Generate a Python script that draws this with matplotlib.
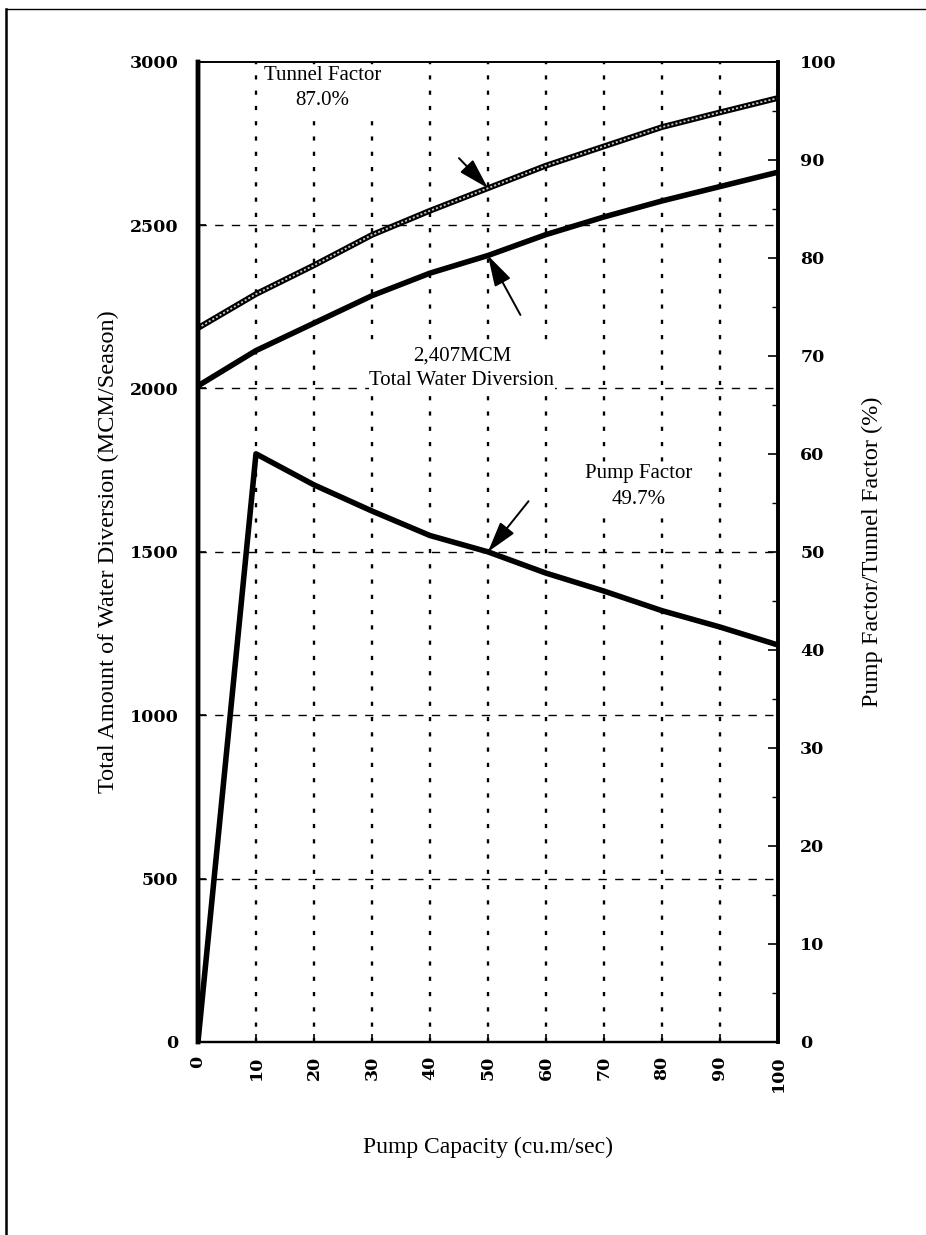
import matplotlib

matplotlib.use("Agg")
import matplotlib.pyplot as plt
from matplotlib.lines import Line2D
from matplotlib.ticker import MultipleLocator

pump_capacity = [0, 10, 20, 30, 40, 50, 60, 70, 80, 90, 100]
tunnel_factor = [2185, 2289, 2377, 2470, 2544, 2613, 2682, 2741, 2800, 2845, 2889]
total_diversion = [2008, 2116, 2200, 2284, 2353, 2407, 2471, 2525, 2574, 2618, 2662]
pump_factor = [0, 1800, 1705, 1625, 1550, 1500, 1435, 1380, 1320, 1270, 1215]

left_ticks = [0, 500, 1000, 1500, 2000, 2500, 3000]
right_ticks = [0, 10, 20, 30, 40, 50, 60, 70, 80, 90, 100]
x_ticks = [0, 10, 20, 30, 40, 50, 60, 70, 80, 90, 100]

plt.rcParams["font.family"] = ["Liberation Serif", "DejaVu Serif"]
plt.rcParams["lines.scale_dashes"] = False

TICK_FONT = dict(family="DejaVu Serif", fontsize=12.5, fontweight="bold")

fig = plt.figure(figsize=(9.26, 12.35), dpi=100)
ax = fig.add_axes([0.2138, 0.1563, 0.6263, 0.7937])

ax.set_xlim(0, 100)
ax.set_ylim(0, 3000)

for x in x_ticks[1:-1]:
    ax.axvline(x, color="black", lw=1.7, ls=(0, (3, 8)), zorder=1)
for y in left_ticks[1:-1]:
    ax.axhline(y, color="black", lw=1.0, ls=(0, (6, 6)), zorder=1)

ax.plot(pump_capacity, tunnel_factor, color="black", lw=4.2, solid_capstyle="butt", zorder=3)
ax.plot(pump_capacity, tunnel_factor, color="#c8c8c8", lw=1.3, ls=(0, (1.5, 1.5)), zorder=4)
ax.plot(pump_capacity, total_diversion, color="black", lw=4.0, zorder=3)
ax.plot(pump_capacity, pump_factor, color="black", lw=4.0, zorder=3)

arrow = dict(arrowstyle="-|>,head_length=1.9,head_width=0.55", color="black", lw=1.4,
             shrinkA=0, shrinkB=0)
ax.annotate("", xy=(50, 2613), xytext=(45.0, 2705), arrowprops=arrow, zorder=5)
ax.annotate("", xy=(50, 2407), xytext=(55.6, 2225), arrowprops=arrow, zorder=5)
ax.annotate("", xy=(50, 1500), xytext=(57.0, 1655), arrowprops=arrow, zorder=5)

box = dict(facecolor="white", edgecolor="none", pad=0.5)
ax.text(21.5, 2920, "Tunnel Factor\n87.0%", ha="center", va="center", fontsize=15,
        linespacing=1.45, bbox=box, zorder=6)
ax.text(45.5, 2062, "2,407MCM\nTotal Water Diversion", ha="center", va="center",
        fontsize=15, linespacing=1.45, bbox=box, zorder=6)
ax.text(76, 1700, "Pump Factor\n49.7%", ha="center", va="center", fontsize=15,
        linespacing=1.45, bbox=box, zorder=6)

ax.set_xticks(x_ticks)
ax.set_xticklabels([str(v) for v in x_ticks], rotation=90, **TICK_FONT)
ax.set_yticks(left_ticks)
ax.set_yticklabels([str(v) for v in left_ticks], **TICK_FONT)
ax.tick_params(axis="both", direction="in", length=6, width=1.2, pad=14)
ax.tick_params(axis="x", pad=10)

ax2 = ax.twinx()
ax2.set_ylim(0, 100)
ax2.set_yticks(right_ticks)
ax2.set_yticklabels([str(v) for v in right_ticks], **TICK_FONT)
ax2.yaxis.set_minor_locator(MultipleLocator(5))
ax2.tick_params(axis="y", which="major", direction="in", length=7, width=1.2, pad=16)
ax2.tick_params(axis="y", which="minor", direction="in", length=4, width=1.0)

for side, width in [("left", 3.2), ("bottom", 1.6), ("top", 1.2), ("right", 2.6)]:
    ax.spines[side].set_linewidth(width)
    ax2.spines[side].set_linewidth(width)

ax.set_xlabel("Pump Capacity (cu.m/sec)", fontsize=17, labelpad=32)
ax.set_ylabel("Total Amount of Water Diversion (MCM/Season)", fontsize=17.5, labelpad=8)
ax2.set_ylabel("Pump Factor/Tunnel Factor (%)", fontsize=17.5, labelpad=18)

fig.add_artist(Line2D([0.007, 0.007], [0.0, 0.993], transform=fig.transFigure,
                      color="black", lw=1.8))
fig.add_artist(Line2D([0.006, 1.0], [0.993, 0.993], transform=fig.transFigure,
                      color="black", lw=1.0))

fig.savefig("out.png", dpi=100)
